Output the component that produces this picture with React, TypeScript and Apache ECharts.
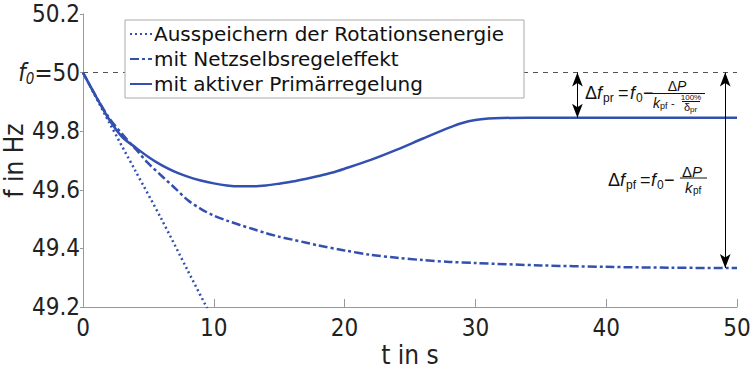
import React, { useEffect, useRef } from "react";
import * as echarts from "echarts";

const seriesNames = [
  "Ausspeichern der Rotationsenergie",
  "mit Netzselbsregeleffekt",
  "mit aktiver Primärregelung",
];

const tRot = [0, 2, 4, 6, 8, 9.5];
const fRot = [50, 49.83, 49.665, 49.5, 49.325, 49.195];

const tNet = [0, 1, 2, 3, 4, 5, 6, 7, 8, 9, 10, 11, 12, 13, 14, 15, 16, 17, 18, 20, 22, 24, 26, 28, 30, 35, 40, 45, 50];
const fNet = [50, 49.918, 49.845, 49.79, 49.74, 49.69, 49.648, 49.607, 49.565, 49.535, 49.512, 49.495, 49.48, 49.466, 49.452, 49.44, 49.43, 49.42, 49.41, 49.393, 49.378, 49.368, 49.36, 49.354, 49.35, 49.342, 49.337, 49.334, 49.333];

const tPrim = [0, 1, 2, 3, 4, 5, 6, 7, 8, 9, 10, 11, 12, 13, 14, 15, 16, 17, 18, 19, 20, 22, 24, 26, 28, 29, 30, 31, 32, 34, 40, 50];
const fPrim = [50, 49.918, 49.84, 49.78, 49.745, 49.712, 49.684, 49.662, 49.645, 49.632, 49.622, 49.615, 49.612, 49.612, 49.615, 49.621, 49.628, 49.637, 49.647, 49.658, 49.672, 49.702, 49.737, 49.775, 49.812, 49.828, 49.838, 49.843, 49.845, 49.846, 49.846, 49.846];

const xTicks = { min: 0, max: 50, interval: 10 };
const yTicks = { min: 49.2, max: 50.2, interval: 0.2 };
const f0 = 50;
const arrowPr = { t: 37.8, top: 50, bottom: 49.846 };
const arrowPf = { t: 49.1, top: 50, bottom: 49.333 };

const BLUE = "#3350b0";
const FONT = "'DejaVu Sans Condensed', 'DejaVu Sans', sans-serif";
const LFONT = "'DejaVu Sans', sans-serif";
const FFONT = "'Liberation Sans', Arial, sans-serif";

const zip = (a: number[], b: number[]) => a.map((v, i) => [v, b[i]]);

function txt(x: number, y: number, text: string, size: number, opts: any = {}) {
  return {
    type: "text",
    x,
    y,
    silent: true,
    style: {
      text,
      fontSize: size,
      fontFamily: FFONT,
      fill: "#111",
      align: opts.align || "left",
      verticalAlign: "middle",
      fontStyle: opts.italic ? "italic" : "normal",
    },
  };
}
function bar(x1: number, x2: number, y: number) {
  return {
    type: "line",
    silent: true,
    shape: { x1, y1: y, x2, y2: y },
    style: { stroke: "#111", lineWidth: 1 },
  };
}

export default function App() {
  const ref = useRef<HTMLDivElement>(null);
  useEffect(() => {
    if (!ref.current) return;
    const chart = echarts.init(ref.current, null, { renderer: "svg" });
    const arrowLine = {
      silent: true,
      symbol: ["arrow", "arrow"],
      symbolSize: [8, 14],
      label: { show: false },
      lineStyle: { color: "#000", width: 1, type: "solid" },
      emphasis: { disabled: true },
    };
    chart.setOption({
      animation: false,
      textStyle: { fontFamily: FONT },
      grid: { left: 83, right: 17, top: 14, bottom: 63, containLabel: false, outerBoundsMode: "none" },
      legend: {
        left: 125,
        top: 20,
        orient: "vertical",
        itemGap: 5,
        itemWidth: 22,
        itemHeight: 10,
        padding: [4, 20, 4, 4],
        borderColor: "#aaa",
        borderWidth: 1,
        backgroundColor: "#fff",
        borderRadius: 0,
        itemStyle: { color: "transparent", borderWidth: 0, opacity: 0 },
        textStyle: { fontSize: 20, color: "#111", fontFamily: LFONT, padding: [0, 0, 0, -3] },
        data: seriesNames,
        z: 10,
      },
      xAxis: {
        type: "value",
        min: xTicks.min,
        max: xTicks.max,
        interval: xTicks.interval,
        name: "t in s",
        nameLocation: "middle",
        nameGap: 35,
        nameMoveOverlap: false,
        nameTextStyle: { fontSize: 26, color: "#222", fontFamily: FONT },
        axisLine: { lineStyle: { color: "#999", width: 1 } },
        axisTick: { inside: true, length: 8, lineStyle: { color: "#999" } },
        axisLabel: { fontSize: 24, color: "#222", margin: 9, fontFamily: FONT },
        splitLine: { show: false },
      },
      yAxis: {
        type: "value",
        min: yTicks.min,
        max: yTicks.max,
        interval: yTicks.interval,
        name: "f in Hz",
        nameLocation: "middle",
        nameGap: 56,
        nameMoveOverlap: false,
        nameRotate: 90,
        nameTextStyle: { fontSize: 26, color: "#222", fontFamily: FONT },
        axisLine: { show: true, lineStyle: { color: "#999", width: 1 } },
        axisTick: { show: true, length: 3, lineStyle: { color: "#999" } },
        axisLabel: {
          fontSize: 24,
          color: "#222",
          margin: 3,
          fontFamily: FONT,
          formatter: (v: number) =>
            Math.abs(v - f0) < 1e-6 ? "{i|f}{s|0}{n|=50}" : v.toFixed(1),
          rich: {
            i: { fontSize: 24, fontStyle: "italic", color: "#222", fontFamily: FONT, lineHeight: 28 },
            n: { fontSize: 24, color: "#222", fontFamily: FONT, lineHeight: 28 },
            s: { fontSize: 15, color: "#222", fontFamily: FONT, fontStyle: "italic", verticalAlign: "bottom", lineHeight: 14 },
          },
        },
        splitLine: { show: false },
      },
      series: [
        {
          name: seriesNames[0],
          type: "line",
          data: zip(tRot, fRot),
          symbol: "none",
          smooth: 0.3,
          lineStyle: { color: BLUE, width: 2.5, type: [2, 3] },
          itemStyle: { color: BLUE },
          z: 3,
          markLine: {
            silent: true,
            symbol: ["none", "none"],
            label: { show: false },
            lineStyle: { color: "#555", width: 1, type: [5, 5] },
            emphasis: { disabled: true },
            data: [[{ coord: [xTicks.min, f0] }, { coord: [xTicks.max, f0] }]],
          },
        },
        {
          name: seriesNames[1],
          type: "line",
          data: zip(tNet, fNet),
          symbol: "none",
          smooth: 0.3,
          lineStyle: { color: BLUE, width: 2.5, type: [9, 3, 3, 3] },
          itemStyle: { color: BLUE },
          z: 3,
          markLine: {
            ...arrowLine,
            data: [[{ coord: [arrowPf.t, arrowPf.top] }, { coord: [arrowPf.t, arrowPf.bottom] }]],
          },
        },
        {
          name: seriesNames[2],
          type: "line",
          data: zip(tPrim, fPrim),
          symbol: "none",
          smooth: 0.3,
          lineStyle: { color: BLUE, width: 2.5 },
          itemStyle: { color: BLUE },
          z: 3,
          markLine: {
            ...arrowLine,
            data: [[{ coord: [arrowPr.t, arrowPr.top] }, { coord: [arrowPr.t, arrowPr.bottom] }]],
          },
        },
      ],
      graphic: [
        // Δf_pr = f0 − ΔP / (k_pf − 100%/δ_pr)
        txt(585, 93, "Δ", 18),
        txt(597, 93, "f", 18, { italic: true }),
        txt(603, 98, "pr", 12),
        txt(618, 93, "=", 18),
        txt(630, 93, "f", 18, { italic: true }),
        txt(636, 98, "0", 12),
        txt(643, 93, "−", 18),
        txt(677, 86, "Δ", 14, { align: "right" }),
        txt(677, 86, "P", 14, { italic: true }),
        bar(652, 705, 93.5),
        txt(653, 103, "k", 14, { italic: true }),
        txt(660, 106, "pf", 9),
        txt(671, 103, "-", 11),
        txt(691, 97, "100%", 8, { align: "center" }),
        bar(682, 700, 101.5),
        txt(690, 107, "δ", 11, { align: "right" }),
        txt(690, 109, "pr", 8),
        // Δf_pf = f0 − ΔP / k_pf
        txt(608, 180, "Δ", 18),
        txt(620, 180, "f", 18, { italic: true }),
        txt(626, 185, "pf", 12),
        txt(640, 180, "=", 18),
        txt(651, 180, "f", 18, { italic: true }),
        txt(657, 185, "0", 12),
        txt(664, 180, "−", 18),
        txt(692, 171, "Δ", 15, { align: "right" }),
        txt(692, 171, "P", 15, { italic: true }),
        bar(680, 707, 178),
        txt(685, 187, "k", 15, { italic: true }),
        txt(693, 190, "pf", 10),
      ],
    });
    return () => chart.dispose();
  }, []);
  return <div ref={ref} style={{ width: 754, height: 370, position: "absolute", left: 0, top: 0 }} />;
}
